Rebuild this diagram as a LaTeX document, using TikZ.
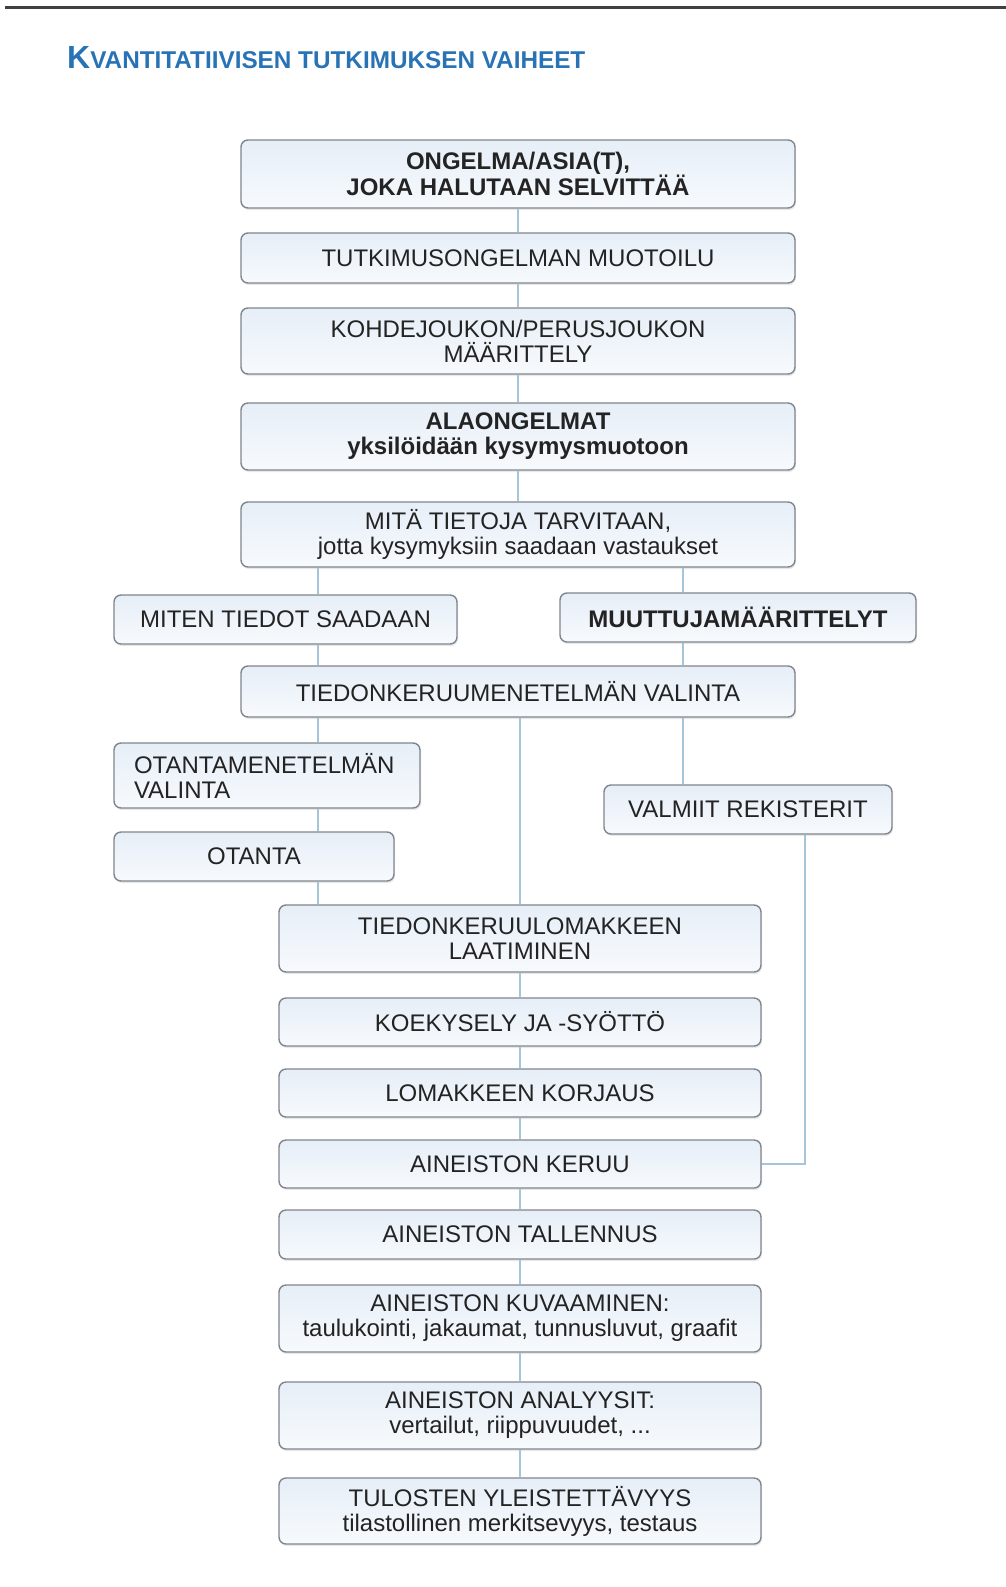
\documentclass[tikz,border=0pt]{standalone}
\usepackage{fontspec}
\setmainfont{Liberation Sans}
\usetikzlibrary{shadows}
\definecolor{boxline}{RGB}{128,134,142}
\definecolor{boxtop}{RGB}{230,238,247}
\definecolor{boxbot}{RGB}{247,250,253}
\definecolor{linkcol}{RGB}{165,198,216}
\definecolor{titleblue}{RGB}{40,115,182}
\definecolor{ink}{RGB}{35,35,35}
\tikzset{>=latex,
  every node/.style={font=\fontsize{24}{25}\selectfont, text=ink},
  phase/.style={draw=boxline, line width=1.4pt, rounded corners=7pt, top color=boxtop, bottom color=boxbot,
    inner sep=0pt, align=center, drop shadow={opacity=0.18, shadow xshift=1pt, shadow yshift=-2pt}},
  link/.style={draw=linkcol, line width=2pt}}

\begin{document}
\begin{tikzpicture}[x=1pt,y=-1pt]
    \useasboundingbox (0,0) rectangle (1006,1587);
    \draw[line width=3pt, color=black!75] (5,8) -- (1006,8);
    \node[anchor=base west, inner sep=0pt, text=titleblue, font=\bfseries\fontsize{24.3}{26}\selectfont] (title) at (67,69)
        {{\fontsize{32}{32}\selectfont K}VANTITATIIVISEN TUTKIMUKSEN VAIHEET};

    % main column
    \node[phase, minimum width=554pt, minimum height=68pt, font=\bfseries\fontsize{24}{25}\selectfont] (b1) at (518,174) {ONGELMA/ASIA(T),\\JOKA HALUTAAN SELVITTÄÄ};
    \node[phase, minimum width=554pt, minimum height=50pt] (b2) at (518,258) {TUTKIMUSONGELMAN MUOTOILU};
    \node[phase, minimum width=554pt, minimum height=66pt] (b3) at (518,341) {KOHDEJOUKON/PERUSJOUKON\\MÄÄRITTELY};
    \node[phase, minimum width=554pt, minimum height=67pt, font=\bfseries\fontsize{24}{25}\selectfont] (b4) at (518,436.5) {ALAONGELMAT\\yksilöidään kysymysmuotoon};
    \node[phase, minimum width=554pt, minimum height=65pt] (b5) at (518,534.5) {MITÄ TIETOJA TARVITAAN,\\jotta kysymyksiin saadaan vastaukset};
    \node[phase, minimum width=343pt, minimum height=49pt] (b6) at (285.5,619.5) {MITEN TIEDOT SAADAAN};
    \node[phase, minimum width=356pt, minimum height=49pt, font=\bfseries\fontsize{24}{25}\selectfont] (b7) at (738,617.5) {MUUTTUJAMÄÄRITTELYT};
    \node[phase, minimum width=554pt, minimum height=51pt] (b8) at (518,691.5) {TIEDONKERUUMENETELMÄN VALINTA};
    \node[phase, text width=266pt, inner xsep=20pt, align=left, minimum height=65pt] (b9) at (267,775.5) {OTANTAMENETELMÄN\\VALINTA};
    \node[phase, minimum width=288pt, minimum height=49pt] (b10) at (748,809.5) {VALMIIT REKISTERIT};
    \node[phase, minimum width=280pt, minimum height=49pt] (b11) at (254,856.5) {OTANTA};

    % lower column
    \foreach \n/\y/\h/\t in {12/938.5/67/{TIEDONKERUULOMAKKEEN\\LAATIMINEN},
                             13/1022/48/{KOEKYSELY JA -SYÖTTÖ},
                             14/1093/48/{LOMAKKEEN KORJAUS},
                             15/1164/48/{AINEISTON KERUU},
                             16/1234.5/49/{AINEISTON TALLENNUS},
                             17/1318.5/67/{AINEISTON KUVAAMINEN:\\taulukointi, jakaumat, tunnusluvut, graafit},
                             18/1415.5/67/{AINEISTON ANALYYSIT:\\vertailut, riippuvuudet, ...},
                             19/1511/66/{TULOSTEN YLEISTETTÄVYYS\\tilastollinen merkitsevyys, testaus}}{
        \node[phase, minimum width=482pt, minimum height=\h pt] (b\n) at (520,\y) {\t};
    }

    \coordinate (lft) at (318,0);
    \coordinate (rgt) at (683,0);
    \coordinate (rk) at (805,0);

    \foreach \a/\b in {b1/b2,b2/b3,b3/b4,b4/b5,b12/b13,b13/b14,b14/b15,b15/b16,b16/b17,b17/b18,b18/b19}{
        \draw[link] (\a) -- (\b);
    }
    \foreach \a/\b in {b5/b6,b6/b8,b8/b9,b9/b11,b11/b12}{
        \draw[link] (\a.south -| lft) -- (\b.north -| lft);
    }
    \foreach \a/\b in {b5/b7,b7/b8,b8/b10}{
        \draw[link] (\a.south -| rgt) -- (\b.north -| rgt);
    }
    \draw[link] (b8.south -| b12) -- (b12.north);
    \draw[link] (b10.south -| rk) |- (b15.east);
\end{tikzpicture}
\end{document}
